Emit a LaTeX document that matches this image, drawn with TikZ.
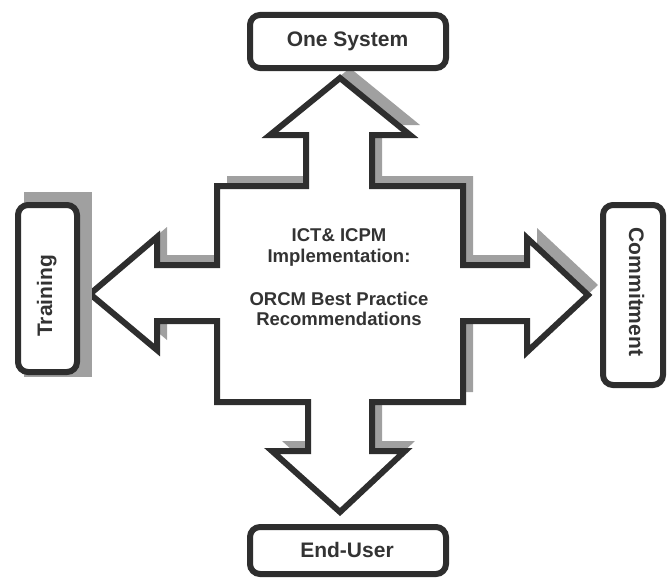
\documentclass[tikz,border=0pt]{standalone}
\usepackage{fontspec}
\setmainfont{Liberation Sans}
\definecolor{ink}{HTML}{2E2E2E}
\definecolor{shadowgray}{HTML}{A0A0A0}
\definecolor{txt}{HTML}{333333}
\begin{document}
\begin{tikzpicture}[x=1pt,y=-1pt,
  outline/.style={draw=ink,line width=6pt,line join=miter},
  boxshape/.style={outline,fill=white,rounded corners=10pt,rectangle,inner sep=0pt},
  lbl/.style={text=txt,font=\fontsize{21}{24}\selectfont\bfseries,inner sep=0pt,anchor=base},
  mid/.style={text=txt,font=\fontsize{18.5}{21}\selectfont\bfseries,inner sep=0pt,anchor=base}]
\useasboundingbox (0,0) rectangle (671,578);
\def\crosspath{(340,78) -- (410,135) -- (372,135) -- (372,186) -- (463,186) -- (463,265)
  -- (527,265) -- (527,238) -- (588,295) -- (527,352) -- (527,321) -- (463,321)
  -- (463,402) -- (372,402) -- (372,451) -- (405,451) -- (340,512) -- (272,451)
  -- (308,451) -- (308,402) -- (217,402) -- (217,321) -- (157,321) -- (157,350)
  -- (90,294) -- (157,237) -- (157,265) -- (217,265) -- (217,186) -- (306,186)
  -- (306,135) -- (270,135) -- cycle}
% shadow of the cross
\fill[shadowgray,shift={(10,-10)}] \crosspath;
% cross
\draw[outline,fill=white] \crosspath;
% centre text
\node[mid] (l1) at (339,241) {ICT\& ICPM};
\node[mid] (l2) at (339,262) {Implementation:};
\node[mid] (l3) at (339,305) {ORCM Best Practice};
\node[mid] (l4) at (339,325) {Recommendations};
% Training shadow
\fill[shadowgray] (24,192) rectangle (92,377);
% boxes
\node[boxshape,minimum width=196pt,minimum height=53pt] (top) at (348,41.5) {};
\node[lbl] (toptxt) at (347.5,47) {One System};
\node[boxshape,minimum width=196pt,minimum height=47pt] (bot) at (348,550.5) {};
\node[lbl] (bottxt) at (347,557) {End-User};
\node[boxshape,minimum width=59pt,minimum height=167pt] (left) at (47.5,288.5) {};
\node[lbl,rotate=90] (lefttxt) at (52,296) {Training};
\node[boxshape,minimum width=60pt,minimum height=180pt] (right) at (633,295) {};
\node[lbl,rotate=-90] (righttxt) at (629,292) {Commitment};
\end{tikzpicture}
\end{document}
